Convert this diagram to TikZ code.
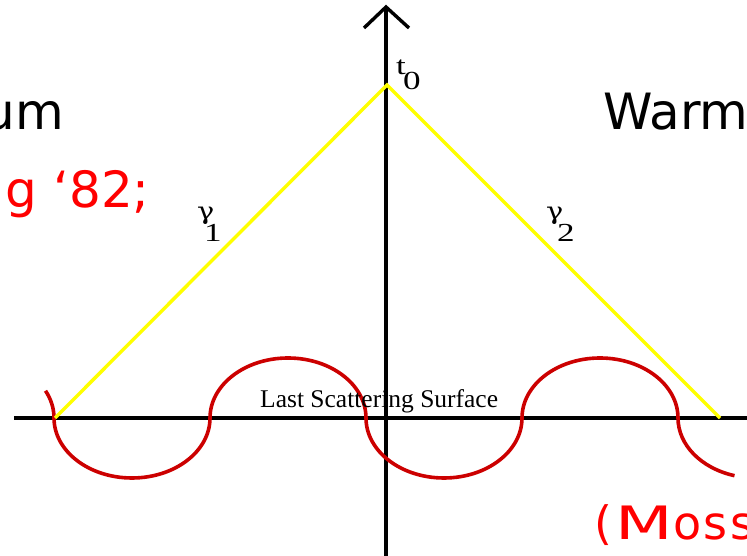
\documentclass[tikz,border=0pt]{standalone}
\usepackage{fontspec}
\setmainfont{Liberation Serif}
\newfontfamily\bigsans{DejaVu Sans}
\newfontfamily\greekserif{DejaVu Serif}
\definecolor{wavered}{RGB}{204,0,0}
\definecolor{rayyellow}{RGB}{255,255,0}
\newcommand{\wide}[1]{\scalebox{1.35}[1]{#1}}
\begin{document}
\begin{tikzpicture}[x=1pt,y=1pt,
  axis/.style={line width=3.4pt,black},
  ray/.style={line width=3.4pt,rayyellow},
  wave/.style={line width=3.6pt,wavered},
  bigtxt/.style={inner sep=0pt,font=\bigsans\fontsize{50}{60}\selectfont},
  lbl/.style={inner sep=0pt,font=\fontsize{25.5}{30}\selectfont},
  sub/.style={inner sep=0pt,font=\fontsize{26}{30}\selectfont},
  gam/.style={inner sep=0pt,font=\greekserif\fontsize{24}{30}\selectfont}]
\useasboundingbox (0,0) rectangle (747,556);
% texts
\node[bigtxt,anchor=base east] (um) at (64,426) {um};
\node[bigtxt,anchor=base west] (warm) at (603,426) {Warm};
\node[bigtxt,anchor=base east,text=red] (g82) at (150,348) {g ‘82;};
\node[bigtxt,anchor=base west,text=red,font=\bigsans\fontsize{46}{54}\selectfont] (moss) at (594,16) {(\kern3pt\scalebox{1.45}[1]{M}\kern1pt o\kern2pt s\kern3pt s};
% axes
\coordinate (xl) at (14,138);
\coordinate (xr) at (747,138);
\coordinate (yb) at (386,0);
\coordinate (yt) at (386,549);
\coordinate (hl) at (364,528);
\coordinate (hr) at (409,528);
\draw[axis] (xl) -- (xr);
\draw[axis] (yb) -- (yt);
\draw[axis] (hl) -- (yt) -- (hr);
% wave
\coordinate (ws) at ({-24+78*cos(27)},{138+60*sin(27)});
\draw[wave] (ws) arc[start angle=27,end angle=0,x radius=78pt,y radius=60pt]
  arc[start angle=180,end angle=360,x radius=78pt,y radius=60pt]
  arc[start angle=180,end angle=0,x radius=78pt,y radius=60pt]
  arc[start angle=180,end angle=360,x radius=78pt,y radius=60pt]
  arc[start angle=180,end angle=0,x radius=78pt,y radius=60pt]
  arc[start angle=180,end angle=254,x radius=78pt,y radius=60pt];
% rays
\coordinate (apex) at (387,471);
\coordinate (e1) at (55,138);
\coordinate (e2) at (720,138);
\draw[ray] (e1) -- (apex) -- (e2);
% labels
\node[lbl,anchor=base west] (lss) at (260,148) {Last Scattering Surface};
\node[sub,anchor=base west] (t) at (396,481) {\wide{t}};
\node[sub,anchor=base west] (t0) at (403,466) {\wide{0}};
\node[gam,anchor=base west] (g1) at (197,336) {\scalebox{1.2}[1]{γ}};
\node[sub,anchor=base west] (s1) at (204,314) {\wide{1}};
\node[gam,anchor=base west] (g2) at (546,336) {\scalebox{1.2}[1]{γ}};
\node[sub,anchor=base west] (s2) at (557,314) {\wide{2}};
\end{tikzpicture}
\end{document}
